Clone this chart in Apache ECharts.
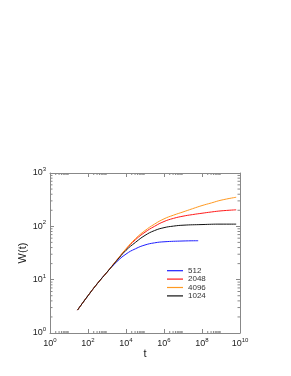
<!DOCTYPE html>
<html><head><meta charset="utf-8">
<script src="https://cdn.jsdelivr.net/npm/echarts@6/dist/echarts.min.js"></script>
<style>html,body{margin:0;padding:0;background:#fff}#c{width:291px;height:376px}</style>
</head><body><div id="c"></div>
<script>
// Data (t, W(t))
var t512  = [28, 100, 316, 1000, 3162, 10000, 31623, 100000, 316228, 1000000, 10000000, 63000000];
var w512  = [2.69, 5.01, 8.51, 13.8, 21.4, 30.2, 38.0, 44.7, 49.0, 51.3, 53.1, 53.7];
var t1024 = [28, 100, 316, 1000, 3162, 10000, 31623, 100000, 316228, 1000000, 3162278, 10000000, 100000000, 1000000000, 6300000000];
var w1024 = [2.69, 5.01, 8.51, 13.8, 22.4, 35.5, 50.1, 67.6, 83.2, 94.4, 101, 105, 108, 110, 110];
var t2048 = [28, 100, 316, 1000, 3162, 10000, 31623, 100000, 316228, 1000000, 3162278, 10000000, 31622777, 100000000, 316227766, 1000000000, 6300000000];
var w2048 = [2.69, 5.01, 8.51, 13.8, 22.9, 37.2, 56.2, 77.6, 100, 123, 141, 155, 166, 176, 186, 195, 204];
var t4096 = [28, 100, 316, 1000, 3162, 10000, 31623, 100000, 316228, 1000000, 3162278, 10000000, 31622777, 100000000, 316227766, 1000000000, 6300000000];
var w4096 = [2.69, 5.01, 8.51, 13.8, 22.9, 38.0, 58.9, 83.2, 110, 138, 162, 186, 214, 245, 275, 309, 351];
var seriesNames = ['512', '2048', '4096', '1024'];
var xTicks = ['10^0', '10^2', '10^4', '10^6', '10^8', '10^10'];
var yTicks = ['10^0', '10^1', '10^2', '10^3'];

function pairs(a, b) { return a.map(function (v, i) { return [v, b[i]]; }); }
var dataMap = { '512': pairs(t512, w512), '1024': pairs(t1024, w1024), '2048': pairs(t2048, w2048), '4096': pairs(t4096, w4096) };
var colors = { '512': '#1f1fff', '2048': '#ff1a1a', '4096': '#ff9a22', '1024': '#111111' };

// minor tick decorations (2..9 x 10^k)
var yMinor = [], xMinor = [];
[1, 10, 100].forEach(function (d) { for (var k = 2; k <= 9; k++) yMinor.push([1, k * d]); });
[1, 100, 1e4, 1e6, 1e8].forEach(function (d) { for (var k = 2; k <= 9; k++) xMinor.push([k * d, 1]); });

var gray = '#888888';
function supFmt(v) {
  var e = Math.round(Math.log(v) / Math.LN10);
  return '{b|10}{s|' + e + '}';
}
var rich = { b: { fontSize: 9, fontFamily: 'Liberation Sans', color: '#222' }, s: { fontSize: 6, fontFamily: 'Liberation Sans', color: '#222', padding: [0, 0, 7, 0] } };

var series = seriesNames.map(function (n) {
  return { name: n, type: 'line', data: dataMap[n], smooth: 0.5, symbol: 'none', lineStyle: { color: colors[n], width: 1 }, itemStyle: { color: colors[n] }, z: 3 };
});
series.push({
  type: 'custom', data: yMinor, silent: true, clip: false, z: 1,
  renderItem: function (params, api) {
    var y = api.coord([1, api.value(1)])[1];
    var l = api.coord([1, 1])[0], r = api.coord([1e10, 1])[0];
    return { type: 'group', children: [
      { type: 'line', shape: { x1: l, y1: y, x2: l + 2.5, y2: y }, style: { stroke: gray, lineWidth: 1 } },
      { type: 'line', shape: { x1: r, y1: y, x2: r - 2.5, y2: y }, style: { stroke: gray, lineWidth: 1 } }
    ] };
  }
});
series.push({
  type: 'custom', data: xMinor, silent: true, clip: false, z: 1,
  renderItem: function (params, api) {
    var x = api.coord([api.value(0), 1])[0];
    var b = api.coord([1, 1])[1], t = api.coord([1, 1000])[1];
    return { type: 'group', children: [
      { type: 'line', shape: { x1: x, y1: b, x2: x, y2: b - 2 }, style: { stroke: gray, lineWidth: 1 } },
      { type: 'line', shape: { x1: x, y1: t, x2: x, y2: t + 2 }, style: { stroke: gray, lineWidth: 1 } }
    ] };
  }
});

var axisCommon = { axisLine: { lineStyle: { color: gray, width: 1 } }, axisTick: { inside: true, length: 4, lineStyle: { color: gray } }, splitLine: { show: false }, minorTick: { show: false } };

var chart = echarts.init(document.getElementById('c'), null, { renderer: 'canvas' });
chart.setOption({
  animation: false,
  backgroundColor: '#fff',
  grid: { left: 50, right: 51, top: 173, bottom: 43 },
  legend: {
    data: seriesNames, orient: 'vertical', left: 167, top: 266.5, icon: 'rect', itemWidth: 16, itemHeight: 1.2, itemGap: 0, padding: 0,
    textStyle: { fontSize: 8, lineHeight: 8.4, fontFamily: 'Liberation Sans', color: '#333' }
  },
  xAxis: [
    Object.assign({ type: 'log', logBase: 10, min: 1, max: 1e10, interval: 2, name: 't', nameLocation: 'middle', nameGap: 15, nameMoveOverlap: false,
      nameTextStyle: { fontSize: 11, fontFamily: 'Liberation Sans', color: '#222' },
      axisLabel: { margin: 4, formatter: supFmt, rich: rich } }, axisCommon),
    Object.assign({ type: 'log', logBase: 10, min: 1, max: 1e10, interval: 2, position: 'top', axisLabel: { show: false } }, axisCommon)
  ],
  yAxis: [
    Object.assign({ type: 'log', logBase: 10, min: 1, max: 1000, interval: 1, name: 'W(t)', nameLocation: 'middle', nameGap: 22, nameRotate: 90, nameMoveOverlap: false,
      nameTextStyle: { fontSize: 11, fontFamily: 'Liberation Sans', color: '#222' },
      axisLabel: { margin: 4, formatter: supFmt, rich: rich } }, axisCommon),
    Object.assign({ type: 'log', logBase: 10, min: 1, max: 1000, interval: 1, position: 'right', axisLabel: { show: false } }, axisCommon)
  ],
  series: series
});
</script></body></html>
